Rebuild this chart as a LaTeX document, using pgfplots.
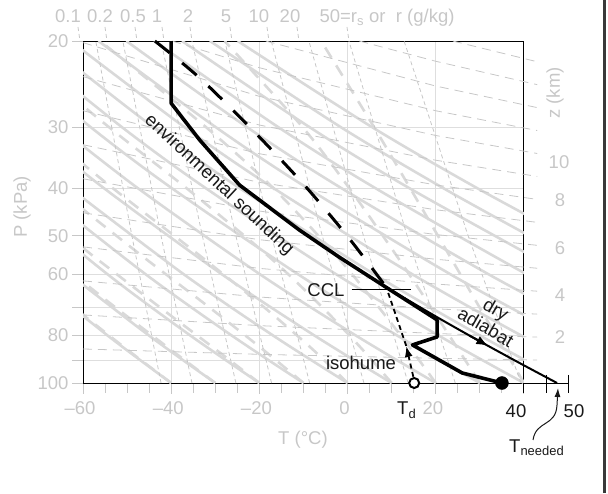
\documentclass[border=0pt]{standalone}
\usepackage{pgfplots}
\pgfplotsset{compat=1.18}
\usepackage{fontspec}
\setmainfont{Liberation Sans}
\usetikzlibrary{arrows.meta}
\definecolor{lbl}{gray}{0.78}
\definecolor{grd}{gray}{0.87}
\definecolor{adi}{gray}{0.85}
\definecolor{mix}{gray}{0.78}
\definecolor{ink}{gray}{0.1}
\newcommand{\fs}{\fontsize{18.5}{20.5}\selectfont}
\tikzset{
  dry/.style={color=adi, line width=2.6pt, smooth},
  moist/.style={color=adi, line width=2.6pt, smooth, dash pattern=on 12pt off 9pt},
  mixr/.style={color=mix, line width=0.8pt, dash pattern=on 4pt off 3pt},
  hgt/.style={color=mix, line width=0.8pt, dash pattern=on 9pt off 6pt},
}
\begin{document}
\begin{tikzpicture}
\useasboundingbox (0,0) rectangle (608pt,493pt);
\begin{axis}[at={(83pt,110pt)}, anchor=south west, scale only axis,
  width=441pt, height=342pt, xmin=-60, xmax=40, ymin=20, ymax=100,
  ymode=log, y dir=reverse,
  axis line style={black, line width=1pt},
  xtick={-60,-40,-20,0,20,40},
  xticklabels={\textendash60,\textendash40,\textendash20,0,20,},
  minor xtick={-55,-50,...,35},
  ytick={20,30,40,50,60,70,80,90,100},
  yticklabels={20,30,40,50,60,,80,,100},
  xtick pos=lower, ytick pos=left,
  tick align=outside,
  major tick length=11pt, minor tick length=10pt,
  tick style={lbl, line width=1pt},
  grid=major, major grid style={grd, line width=1pt},
  tick label style={font=\fs, text=lbl},
  xticklabel style={xshift=-3pt, yshift=-4pt},
  clip=true]
% dry adiabats
\addplot[dry] coordinates {(-40,100)(-54.40,80)(-71.66,60)};
\addplot[dry] coordinates {(-30,100)(-45.02,80)(-63.02,60)};
\addplot[dry] coordinates {(-20,100)(-35.63,80)(-54.38,60)(-78.3,40)};
\addplot[dry] coordinates {(-10,100)(-26.25,80)(-45.73,60)(-70.61,40)};
\addplot[dry] coordinates {(0,100)(-16.87,80)(-37.09,60)(-62.91,40)};
\addplot[dry] coordinates {(10,100)(-7.49,80)(-28.45,60)(-55.21,40)(-72.42,30)};
\addplot[dry] coordinates {(20,100)(1.90,80)(-19.81,60)(-47.52,40)(-65.34,30)};
\addplot[dry] coordinates {(30,100)(11.28,80)(-11.17,60)(-39.82,40)(-58.25,30)(-81.74,20)};
\addplot[dry] coordinates {(40,100)(20.66,80)(-2.52,60)(-32.12,40)(-51.16,30)(-75.43,20)};
\addplot[dry] coordinates {(50,100)(30.04,80)(6.12,60)(-24.42,40)(-44.07,30)(-69.12,20)};
\addplot[dry] coordinates {(60,100)(39.42,80)(14.76,60)(-16.73,40)(-36.98,30)(-62.80,20)};
\addplot[dry] coordinates {(70,100)(48.81,80)(23.40,60)(-9.03,40)(-29.89,30)(-56.49,20)};
\addplot[dry] coordinates {(58.19,80)(32.04,60)(-1.34,40)(-22.80,30)(-50.18,20)};
\addplot[dry] coordinates {(67.57,80)(40.68,60)(6.36,40)(-15.71,30)(-43.86,20)};
\addplot[dry] coordinates {(49.33,60)(14.06,40)(-8.62,30)(-37.55,20)};
\addplot[dry] coordinates {(41.16,50)(21.76,40)(-1.53,30)(-31.23,20)};
\addplot[dry] coordinates {(49.37,50)(29.45,40)(5.56,30)(-24.92,20)};
% moist adiabats
\addplot[moist] coordinates {(40,100)(35.4,85)(29.9,70)(23.15,55)(14.2,40)(6.0,30)(-6.0,20)};
\addplot[moist] coordinates {(30,100)(24.95,85)(18.9,70)(11.15,55)(0.4,40)(-10.2,30)(-27.9,20)};
\addplot[moist] coordinates {(20,100)(14.25,85)(7.05,70)(-2.5,55)(-16.8,40)(-32.1,30)(-56.1,20)};
\addplot[moist] coordinates {(10,100)(3.15,85)(-5.75,70)(-18.0,55)(-36.5,40)(-54.1,30)(-77.8,20)};
\addplot[moist] coordinates {(0,100)(-8.15,85)(-18.95,70)(-33.4,55)(-53.2,40)(-70.2,30)};
\addplot[moist] coordinates {(-10,100)(-19.5,85)(-31.4,70)(-46.6,55)(-66,40)};
\addplot[moist] coordinates {(-20,100)(-30.2,85)(-42.6,70)(-57.7,55)(-63.4,50)};
\addplot[moist] coordinates {(-30,100)(-40.45,85)(-52.7,70)(-62.1,60)};
\addplot[moist] coordinates {(-40,100)(-50.3,85)(-62.2,70)};
% mixing ratio lines
\addplot[mixr] coordinates {(-42.30,100)(-48.92,50)(-57.11,20)};
\addplot[mixr] coordinates {(-35.29,100)(-42.31,50)(-50.97,20)};
\addplot[mixr] coordinates {(-25.33,100)(-32.94,50)(-42.31,20)};
\addplot[mixr] coordinates {(-17.24,100)(-25.34,50)(-35.30,20)};
\addplot[mixr] coordinates {(-8.60,100)(-17.26,50)(-27.86,20)};
\addplot[mixr] coordinates {(3.71,100)(-5.75,50)(-17.31,20)};
\addplot[mixr] coordinates {(13.74,100)(3.59,50)(-8.77,20)};
\addplot[mixr] coordinates {(24.41,100)(13.51,50)(0.30,20)};
\addplot[mixr] coordinates {(39.33,100)(27.33,50)(12.81,20)};
\end{axis}
\begin{axis}[at={(83pt,110pt)}, anchor=south west, scale only axis,
  width=441pt, height=342pt, xmin=-60, xmax=40, ymin=20, ymax=100,
  ymode=log, y dir=reverse, hide axis, clip=false]
% height lines
\addplot[hgt] coordinates {(-60,85.20)(-20,87.38)(20,89.00)(43,89.76)};
\addplot[hgt] coordinates {(-60,72.59)(-20,76.35)(20,79.22)(43,80.57)};
\addplot[hgt] coordinates {(-60,61.84)(-20,66.72)(20,70.51)(43,72.32)};
\addplot[hgt] coordinates {(-60,52.69)(-20,58.30)(20,62.76)(43,64.92)};
\addplot[hgt] coordinates {(-60,44.89)(-20,50.94)(20,55.86)(43,58.27)};
\addplot[hgt] coordinates {(-60,38.24)(-20,44.52)(20,49.72)(43,52.31)};
\addplot[hgt] coordinates {(-60,32.58)(-20,38.90)(20,44.25)(43,46.95)};
\addplot[hgt] coordinates {(-60,27.76)(-20,33.99)(20,39.38)(43,42.14)};
\addplot[hgt] coordinates {(-60,23.65)(-20,29.70)(20,35.05)(43,37.83)};
\addplot[hgt] coordinates {(-60,20.15)(-20,25.95)(20,31.20)(43,33.96)};
\addplot[hgt] coordinates {(-39.8,20)(-20,22.68)(20,27.77)(43,30.48)};
\addplot[hgt] coordinates {(-18.56,20)(20,24.72)(43,27.36)};
\addplot[hgt] coordinates {(2.66,20)(20,22.00)(43,24.56)};
\addplot[hgt] coordinates {(23.87,20)(43,22.05)};
% black baseline extension and ticks
\addplot[black, line width=1pt] coordinates {(40,100)(50,100)};
\addplot[black, line width=1pt] coordinates {(40,100)(40,105)};
\addplot[black, line width=1pt] coordinates {(45,96.3)(45,105)};
\addplot[black, line width=1pt] coordinates {(50,96.3)(50,105)};
% CCL marker line
\addplot[black, line width=1pt] coordinates {(0.9,64.3)(14.4,64.3)};
% dry adiabat from CCL
\addplot[black, line width=2pt, smooth] coordinates {(8.86,63.8)(18.73,72)(27.65,80)(37.99,90)(47.5,100)};
\addplot[black, line width=2pt, -{Latex[length=12pt,width=9pt]}] coordinates {(27.65,80)(31.9,84)};
% parcel moist adiabat
\addplot[black, line width=3pt, smooth, dash pattern=on 19pt off 16pt] coordinates {(-43.7,20)(-33.53,23.80)(-21.54,30.41)(-10.23,39.02)(-1.18,48.67)(4.48,56.58)(8.8,63.8)};
% isohume
\addplot[black, line width=1.8pt, dash pattern=on 5pt off 3.5pt, -{Latex[length=11pt,width=8pt]}] coordinates {(14.9,97.1)(13.3,84.0)};
\addplot[black, line width=1.8pt, dash pattern=on 5pt off 3.5pt] coordinates {(13.3,84.0)(8.8,63.8)};
% environmental sounding
\addplot[black, line width=3.6pt, line join=round] coordinates {(-40,20)(-40,26.8)(-37.6,28.6)(-33.5,31.9)(-24.5,39.4)(-10.9,48.7)(-1.9,55.3)(8.8,63.8)(20.3,74.3)(20.3,80.5)(14.7,83.6)(26.0,95.4)(35,100)};
\addplot[only marks, mark=*, mark size=6.5pt, black] coordinates {(35,100)};
\addplot[only marks, mark=*, mark size=5pt, mark options={fill=white, draw=black, line width=2pt}] coordinates {(15.1,100)};
\end{axis}
% leaders above the box
\foreach \x in {78,105,135,162,190,230,267,297,347}
  \draw[mixr] (\x pt,466pt) -- (\x pt+2pt,452pt);
% top labels
\begin{scope}[every node/.style={font=\fs, text=lbl, anchor=base, inner sep=0pt}]
\node at (68pt,470pt) {0.1};
\node at (100pt,470pt) {0.2};
\node at (133pt,470pt) {0.5};
\node at (157pt,470pt) {1};
\node at (188pt,470pt) {2};
\node at (226pt,470pt) {5};
\node at (259pt,470pt) {10};
\node at (290pt,470pt) {20};
\node at (387pt,470pt) {50=r\textsubscript{s} or~ r (g/kg)};
\end{scope}
\begin{scope}[every node/.style={font=\fs, text=lbl}]
\node[rotate=90] at (555pt,400pt) {z (km)};
\node at (559pt,331pt) {10};
\node at (560pt,293pt) {8};
\node at (560pt,245pt) {6};
\node at (560pt,198pt) {4};
\node at (560pt,156pt) {2};
\node[rotate=90] at (22pt,286pt) {P (kPa)};
\node at (303pt,53pt) {T (°C)};
\end{scope}
\begin{scope}[every node/.style={font=\fs, text=ink}]
\node at (516pt,82pt) {40};
\node at (574pt,82pt) {50};
\node at (326pt,203pt) {CCL};
\node at (361pt,130pt) {isohume};
\node[anchor=base west, inner sep=0pt] at (397pt,78pt) {T\textsubscript{d}};
\node[anchor=base west, inner sep=0pt] at (509pt,41pt) {T\textsubscript{needed}};
\node[rotate=-43] at (219pt,308pt) {environmental sounding};
\node[rotate=-30, align=center] at (491pt,175pt) {dry\\adiabat};
\end{scope}
\draw[ink, line width=1pt, -{Latex[length=9pt,width=6pt]}] (533pt,53pt) .. controls (536pt,73pt) and (556pt,66pt) .. (557pt,88pt) -- (558pt,105pt);
\draw[gray!45!black, line width=3pt] (604.5pt,0pt) -- (604.5pt,493pt);
\end{tikzpicture}
\end{document}
